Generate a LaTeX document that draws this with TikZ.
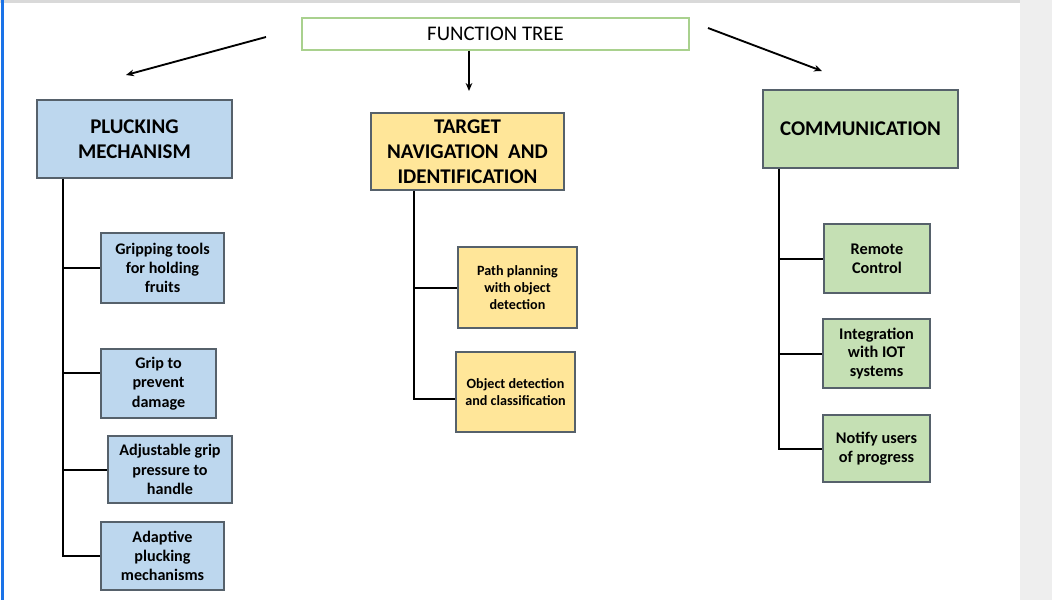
\documentclass[tikz,border=0pt]{standalone}
\usepackage{fontspec}
\setmainfont{Carlito}
\usetikzlibrary{arrows.meta}
\definecolor{bluefill}{HTML}{BDD7EE}
\definecolor{yellowfill}{HTML}{FFE699}
\definecolor{greenfill}{HTML}{C5E0B4}
\definecolor{boxline}{HTML}{56616B}
\definecolor{treeline}{HTML}{A9D18E}
\definecolor{pagegray}{HTML}{EEEEEE}
\definecolor{topgray}{HTML}{D9D9D9}
\definecolor{edgeblue}{HTML}{1A73E8}
\tikzset{
  x=0.75pt, y=-0.75pt,
  card/.style={draw=boxline, line width=0.8pt, inner sep=0pt, align=center, text=black},
  title/.style={card, font=\bfseries\fontsize{15.7}{18.75}\selectfont},
  bluesub/.style={card, fill=bluefill, font=\bfseries\fontsize{12.1}{14.5}\selectfont},
  yellowsub/.style={card, fill=yellowfill, font=\bfseries\fontsize{10.6}{12.5}\selectfont},
  greensub/.style={card, fill=greenfill, font=\bfseries\fontsize{12.2}{14.2}\selectfont},
  link/.style={draw=black, line width=1.5pt},
  pointer/.style={draw=black, line width=1.4pt, -{Stealth[length=6pt,width=5pt]}},
}
\begin{document}
\begin{tikzpicture}
% page frame
\useasboundingbox (0,0) rectangle (1052,600);
\fill[white] (0,0) rectangle (1052,600);
\fill[pagegray] (1020,0) rectangle (1052,600);
\fill[topgray] (0,0) rectangle (1020,2.5);
\fill[edgeblue] (1,0) rectangle (4,600);

% root
\node[draw=treeline, line width=1.1pt, minimum width=290.25pt, minimum height=24pt, inner sep=0pt,
      font=\fontsize{15.6}{18}\selectfont] (root) at (495.5,34) {FUNCTION TREE};

% main branches
\node[title, fill=bluefill, minimum width=146.25pt, minimum height=58.5pt] (pluck) at (134.5,139) {PLUCKING\\MECHANISM};
\node[title, fill=yellowfill, minimum width=144.75pt, minimum height=57.75pt] (target) at (467.5,151.5) {TARGET\\NAVIGATION~~AND\\IDENTIFICATION};
\node[title, fill=greenfill, minimum width=146.25pt, minimum height=58.5pt] (comm) at (860.5,129) {COMMUNICATION};

% arrows from root
\coordinate (aL0) at (266,37);  \coordinate (aL1) at (126,75);
\coordinate (aR0) at (708,28);  \coordinate (aR1) at (822,71);
\coordinate (aM1) at (469,91);
\draw[pointer] (aL0) -- (aL1);
\draw[pointer] (root.south -| aM1) -- (aM1);
\draw[pointer] (aR0) -- (aR1);

% plucking sub-functions
\node[bluesub, minimum width=92.25pt, minimum height=52.5pt] (p1) at (162.5,268) {Gripping tools\\for holding\\fruits};
\node[bluesub, minimum width=86.25pt, minimum height=51.75pt] (p2) at (158.5,383.5) {Grip to\\prevent\\damage};
\node[bluesub, minimum width=93pt, minimum height=50.25pt] (p3) at (170,469.5) {Adjustable grip\\pressure to\\handle};
\node[bluesub, minimum width=92.25pt, minimum height=51pt] (p4) at (162.5,556) {Adaptive\\plucking\\mechanisms};

% navigation sub-functions
\node[yellowsub, minimum width=89.25pt, minimum height=60.75pt] (n1) at (517.5,287.5) {Path planning\\with object\\detection};
\node[yellowsub, minimum width=89.25pt, minimum height=60pt] (n2) at (515.5,392) {Object detection\\and classification};

% communication sub-functions
\node[greensub, minimum width=79.5pt, minimum height=51.75pt] (c1) at (877,258.5) {Remote\\Control};
\node[greensub, minimum width=80.25pt, minimum height=51.75pt] (c2) at (876.5,353.5) {Integration\\with IOT\\systems};
\node[greensub, minimum width=80.25pt, minimum height=50.25pt] (c3) at (876.5,448.5) {Notify users\\of progress};

% trunks
\coordinate (tp) at (62.5,0);
\coordinate (tn) at (414,0);
\coordinate (tc) at (779,0);
\coordinate (yp2) at (0,373);
\coordinate (yn2) at (0,398.5);

\draw[link] (pluck.south -| tp) |- (p4.west);
\draw[link] (tp |- p1.west) -- (p1.west);
\draw[link] (tp |- yp2) -- (p2.west |- yp2);
\draw[link] (tp |- p3.west) -- (p3.west);

\draw[link] (target.south -| tn) |- (n2.west |- yn2);
\draw[link] (tn |- n1.west) -- (n1.west);

\draw[link] (comm.south -| tc) |- (c3.west);
\draw[link] (tc |- c1.west) -- (c1.west);
\draw[link] (tc |- c2.west) -- (c2.west);
\end{tikzpicture}
\end{document}
